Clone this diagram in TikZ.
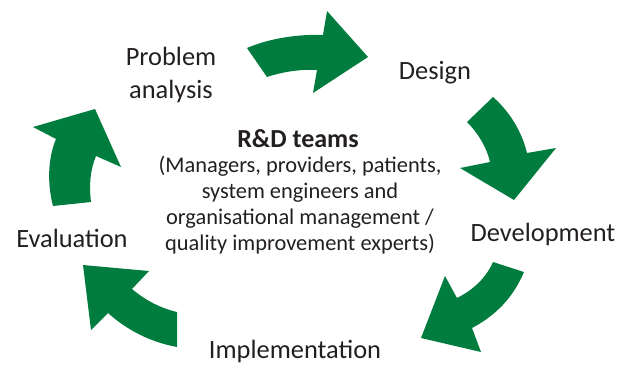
\documentclass[tikz,border=0pt]{standalone}
\usepackage{fontspec}
\setmainfont{Carlito}
\usetikzlibrary{positioning}
\definecolor{cyclegreen}{RGB}{0,125,62}
\definecolor{inkgray}{RGB}{35,31,32}
\tikzset{
    stage/.style={font=\fontsize{26.4}{33}\selectfont, text=inkgray, align=center, inner sep=0pt},
    team/.style={font=\bfseries\fontsize{26}{28}\selectfont, text=inkgray, inner sep=0pt},
    members/.style={font=\fontsize{22.4}{25.7}\selectfont, text=inkgray, align=center, inner sep=0pt},
    flow/.style={fill=cyclegreen, draw=none}
}
\begin{document}
\begin{tikzpicture}[x=1pt,y=-1pt]
    \useasboundingbox (0,0) rectangle (630,365);

    \node[stage, anchor=base] (problem) at (171,98) {Problem\\analysis};
    \node[stage, anchor=base] (design) at (435,79) {Design};
    \node[stage, anchor=base] (development) at (543,241) {Development};
    \node[stage, anchor=base] (implementation) at (295,358) {Implementation};
    \node[stage, anchor=base] (evaluation) at (72,247) {Evaluation};

    \node[team, anchor=base] (rdteams) at (298,147) {R\&D teams};
    \node[members, anchor=base] (rdmembers) at (300,250) {(Managers, providers, patients,\\system engineers and\\organisational management /\\quality improvement experts)};

    % curved arrows, clockwise
    \fill[flow] (247,48) .. controls (270,38) and (300,34) .. (323,35) -- (327,11) -- (368,57)
        -- (313,93) -- (317,70) .. controls (300,69) and (282,72) .. (267,77) -- cycle;
    \fill[flow] (467,122) -- (493,97) .. controls (510,112) and (522,132) .. (527,153) -- (556,148)
        -- (514,200) -- (460,168) -- (490,162) .. controls (487,148) and (478,133) .. (467,122) -- cycle;
    \fill[flow] (493,262) -- (524,272) .. controls (513,298) and (495,316) .. (472,328) -- (481,352)
        -- (421,338) -- (445,276) -- (457,298) .. controls (473,290) and (486,278) .. (493,262) -- cycle;
    \fill[flow] (83,265) -- (149,271) -- (132,289) .. controls (145,300) and (160,308) .. (177,312)
        -- (177,347) .. controls (150,342) and (127,330) .. (108,313) -- (91,330) -- cycle;
    \fill[flow] (53,206) .. controls (47,183) and (48,158) .. (56,139) -- (33,127) -- (95,109)
        -- (121,167) -- (96,156) .. controls (90,170) and (89,186) .. (91,202) -- cycle;
\end{tikzpicture}
\end{document}
